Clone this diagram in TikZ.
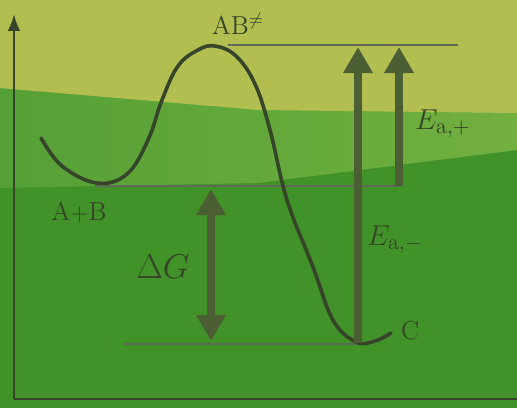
\documentclass[tikz,border=0pt]{standalone}
\usepackage{tikz}
\usetikzlibrary{arrows.meta,positioning,calc}
\usepackage{xcolor}
\definecolor{paper}{HTML}{B2BF50}
\definecolor{band}{HTML}{55A036}
\definecolor{lightband}{HTML}{72B040}
\definecolor{deep}{HTML}{419228}
\definecolor{ink}{HTML}{36452A}
\definecolor{shade}{HTML}{4C5E34}
\tikzset{
  >=Latex,
  every node/.style={text=ink},
  axis/.style={->,line width=1.2pt,draw=ink},
  level/.style={line width=0.8pt,draw=ink!80},
  curve/.style={line width=1.8pt,draw=ink,line cap=round},
  bigarrow/.style={-{Triangle[width=14pt,length=13pt]},line width=4pt,draw=shade},
  bothways/.style={{Triangle[width=14pt,length=13pt]}-{Triangle[width=14pt,length=13pt]},line width=4pt,draw=shade},
  label/.style={font=\fontsize{13}{15}\selectfont,inner sep=1pt},
  elabel/.style={font=\fontsize{15}{17}\selectfont,inner sep=1pt},
  biglabel/.style={font=\fontsize{17}{19}\selectfont,inner sep=1pt},
}

\begin{document}
\begin{tikzpicture}[x=0.5pt,y=-0.5pt]
  \useasboundingbox (0,0) rectangle (517,408);
  % photo background
  \fill[deep] (0,0) rectangle (517,408);
  \shade[left color=band,right color=lightband] (0,0) -- (517,0) -- (517,150) -- (258,183) -- (0,188) -- cycle;
  \fill[paper] (0,0) -- (517,0) -- (517,113) -- (258,110) -- (0,88) -- cycle;

  % axes
  \coordinate (origin) at (14,399);
  \coordinate (ytop) at (14,14);
  \coordinate (xend) at (517,399);
  \draw[axis] (origin) -- (ytop);
  \draw[line width=1.2pt,draw=ink] (origin) -- (xend);

  % energy levels
  \coordinate (tsL) at (228,45);  \coordinate (tsR) at (458,45);
  \coordinate (abL) at (95,186);  \coordinate (abR) at (400,186);
  \coordinate (cL) at (124,344);  \coordinate (cR) at (362,344);
  \draw[level] (tsL) -- (tsR);
  \draw[level] (abL) -- (abR);
  \draw[level] (cL) -- (cR);

  % reaction path
  \draw[curve] plot[smooth,tension=0.65] coordinates {(41,138) (62,166) (97,183) (127,174) (148,140) (162,100) (178,66) (198,50) (215,46) (236,56) (255,84) (270,130) (287,200) (313,267) (333,320) (356,342) (375,341) (391,333)};

  % arrows
  \coordinate (dgTop) at (211,189);  \coordinate (dgBot) at (211,341);
  \coordinate (eaMinus0) at (358,343); \coordinate (eaMinus1) at (358,47);
  \coordinate (eaPlus0) at (399,186);  \coordinate (eaPlus1) at (399,47);
  \draw[bothways] (dgTop) -- (dgBot);
  \draw[bigarrow] (eaMinus0) -- (eaMinus1);
  \draw[bigarrow] (eaPlus0) -- (eaPlus1);

  % labels
  \node[label] (tsLabel) at (238,24) {AB$^{\neq}$};
  \node[label] (abLabel) at (79,212) {A$+$B};
  \node[label] (cLabel) at (410,331) {C};
  \node[biglabel] (dgLabel) at (163,267) {$\Delta G$};
  \node[elabel] (eaPlusLabel) at (443,124) {$E_{\mathrm{a},+}$};
  \node[elabel] (eaMinusLabel) at (395,240) {$E_{\mathrm{a},-}$};
\end{tikzpicture}
\end{document}
